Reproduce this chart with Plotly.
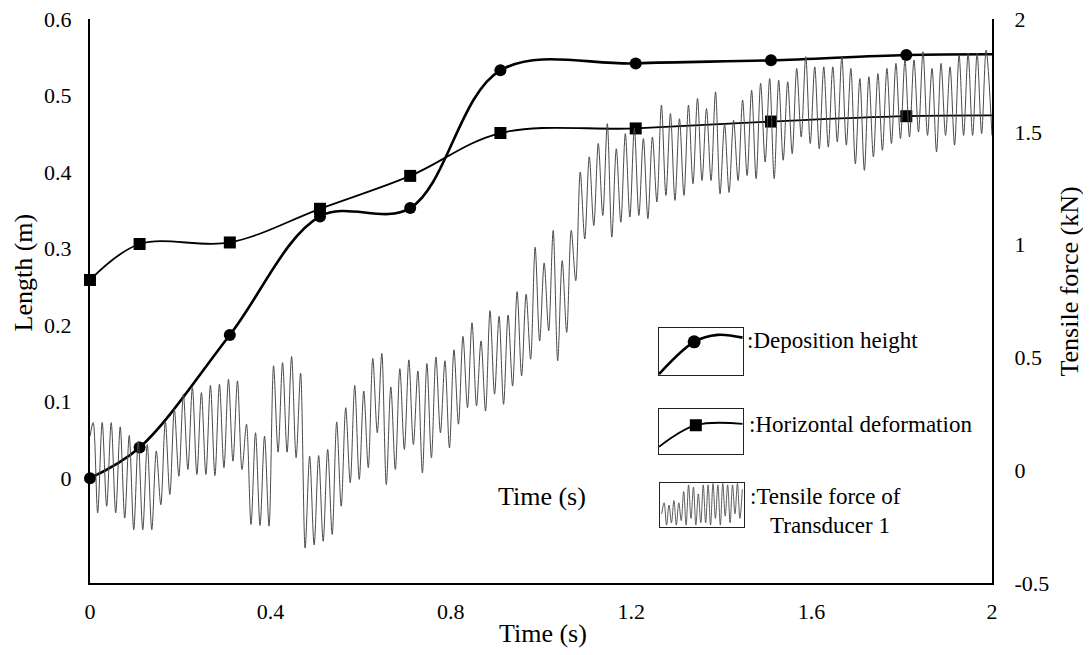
import numpy as np
import plotly.graph_objects as go

# ---------------- data ----------------
# Marker curves (left axis, Length in m)
curve_t = [0.0, 0.11, 0.31, 0.51, 0.71, 0.91, 1.21, 1.51, 1.81, 2.0]
deposition_height = [0.0, 0.040, 0.187, 0.342, 0.353, 0.533, 0.542, 0.546, 0.553, 0.554]
horizontal_deformation = [0.259, 0.306, 0.308, 0.352, 0.395, 0.451, 0.457, 0.466, 0.473, 0.474]
n_marked = 9  # the last point (t = 2) only carries the line to the right axis

# Tensile force of transducer 1 (right axis, kN): successive local maxima / minima
force_peaks = [
    0.211, 0.212, 0.211, 0.192, 0.154, 0.129, 0.114, 0.085, 0.218, 0.270,
    0.337, 0.366, 0.344, 0.376, 0.381, 0.403, 0.396, 0.204, 0.166, 0.151,
    0.463, 0.477, 0.504, 0.430, 0.062, 0.065, 0.092, 0.214, 0.277, 0.376,
    0.351, 0.496, 0.518, 0.369, 0.450, 0.489, 0.440, 0.473, 0.502, 0.485,
    0.534, 0.593, 0.654, 0.573, 0.707, 0.682, 0.688, 0.792, 0.780, 0.988,
    0.919, 1.063, 0.929, 1.063, 1.322, 1.389, 1.448, 1.536, 1.425, 1.492,
    1.515, 1.470, 1.477, 1.618, 1.581, 1.558, 1.618, 1.648, 1.603, 1.677,
    1.536, 1.551, 1.641, 1.684, 1.715, 1.736, 1.729, 1.722, 1.781, 1.833,
    1.788, 1.788, 1.788, 1.833, 1.781, 1.736, 1.744, 1.758, 1.781, 1.803,
    1.818, 1.818, 1.855, 1.781, 1.803, 1.788, 1.840, 1.848, 1.848, 1.862,
]
force_troughs = [
    -0.189, -0.160, -0.189, -0.212, -0.264, -0.264, -0.264, -0.153, -0.108, -0.027,
    0.003, -0.019, -0.019, -0.024, 0.011, 0.040, 0.003, -0.241, -0.245, -0.248,
    0.080, 0.080, 0.055, -0.345, -0.331, -0.315, -0.285, -0.160, -0.056, -0.041,
    0.011, 0.166, -0.064, 0.003, 0.092, 0.114, -0.012, 0.055, 0.166, 0.099,
    0.204, 0.277, 0.285, 0.262, 0.337, 0.292, 0.373, 0.418, 0.492, 0.573,
    0.618, 0.485, 0.611, 0.840, 1.025, 1.084, 1.129, 1.033, 1.099, 1.122,
    1.129, 1.115, 1.189, 1.218, 1.196, 1.218, 1.270, 1.284, 1.284, 1.225,
    1.231, 1.284, 1.306, 1.292, 1.366, 1.292, 1.374, 1.403, 1.477, 1.448,
    1.425, 1.432, 1.455, 1.441, 1.358, 1.329, 1.389, 1.418, 1.448, 1.470,
    1.477, 1.499, 1.484, 1.411, 1.484, 1.441, 1.484, 1.484, 1.492,
]
force_start = 0.15
force_end = 1.484
first_peak_t = 0.007
half_period = 0.01

# Legend icon for the force signal (normalised box coordinates)
icon_sig = [0.3, 0.55, 0.05, 0.5, 0.1, 0.6, 0.05, 0.55, 0.15, 0.8, 0.05, 0.95, 0.2,
            0.9, 0.05, 0.75, 0.1, 0.95, 0.1, 0.95, 0.05, 0.98, 0.2, 0.95, 0.05, 0.98,
            0.25, 0.95, 0.1, 0.95, 0.3, 0.98, 0.2, 0.85]

x_ticks = [0, 0.4, 0.8, 1.2, 1.6, 2]
x_labels = ["0", "0.4", "0.8", "1.2", "1.6", "2"]
left_ticks = [0, 0.1, 0.2, 0.3, 0.4, 0.5, 0.6]
left_labels = ["0", "0.1", "0.2", "0.3", "0.4", "0.5", "0.6"]
right_ticks = [-0.5, 0, 0.5, 1, 1.5, 2]
right_labels = ["-0.5", "0", "0.5", "1", "1.5", "2"]

# ---------------- build series ----------------
force_vals = [force_start]
for p, tr in zip(force_peaks, force_troughs + [None]):
    force_vals.append(p)
    if tr is not None:
        force_vals.append(tr)
force_vals.append(force_end)
n_ext = len(force_vals) - 2
force_t = [0.0] + list(first_peak_t + half_period * np.arange(n_ext)) + [2.0]

FONT = "Liberation Serif"
fig = go.Figure()

fig.add_trace(go.Scatter(
    x=force_t, y=force_vals, yaxis="y2", mode="lines",
    line=dict(color="#4a4a4a", width=1, shape="spline", smoothing=0.9),
    showlegend=False, hoverinfo="skip"))

for ys, width, symbol in [(horizontal_deformation, 1.8, "square"),
                          (deposition_height, 2.6, "circle")]:
    fig.add_trace(go.Scatter(
        x=curve_t, y=ys, mode="lines",
        line=dict(color="black", width=width, shape="spline"),
        cliponaxis=False, showlegend=False, hoverinfo="skip"))
    fig.add_trace(go.Scatter(
        x=curve_t[:n_marked], y=ys[:n_marked], mode="markers",
        marker=dict(symbol=symbol, size=12, color="black", opacity=1),
        cliponaxis=False, showlegend=False))

# ---------------- page geometry (page has an 8px body margin) ----------------
OFF = 8
W, H = 1083, 647
PL, PR, PT, PB = 90, 992, 19, 583  # plot area in page pixels
L, R, T, B = PL - OFF, OFF + W - PR, PT - OFF, OFF + H - PB
pw, ph = PR - PL, PB - PT

def px_x(px):
    return (px - PL) / pw

def px_y(py):
    return (PB - py) / ph

boxes = [
    (659, 742.7, 328.3, 375.0),
    (659, 742.7, 409.0, 454.0),
    (660, 744.0, 482.7, 527.3),
]
for i, (x0, x1, y0, y1) in enumerate(boxes):
    n = i + 3
    fig.layout[f"xaxis{n}"] = dict(domain=[px_x(x0), px_x(x1)], anchor=f"y{n}", range=[0, 1],
                                   showline=True, mirror=True, linecolor="#222", linewidth=1.2,
                                   showticklabels=False, showgrid=False, zeroline=False, ticks="",
                                   fixedrange=True)
    fig.layout[f"yaxis{n}"] = dict(domain=[px_y(y1), px_y(y0)], anchor=f"x{n}", range=[0, 1],
                                   showline=True, mirror=True, linecolor="#222", linewidth=1.2,
                                   showticklabels=False, showgrid=False, zeroline=False, ticks="",
                                   fixedrange=True)

fig.add_trace(go.Scatter(x=[0, 0.42, 0.7, 1], y=[0.02, 0.71, 0.86, 0.8], xaxis="x3", yaxis="y3",
                         mode="lines", line=dict(color="black", width=2.6, shape="spline"),
                         showlegend=False, hoverinfo="skip"))
fig.add_trace(go.Scatter(x=[0.42], y=[0.71], xaxis="x3", yaxis="y3", mode="markers",
                         marker=dict(symbol="circle", size=13, color="black"),
                         showlegend=False, hoverinfo="skip"))
fig.add_trace(go.Scatter(x=[0, 0.44, 1], y=[0.16, 0.64, 0.67], xaxis="x4", yaxis="y4",
                         mode="lines", line=dict(color="black", width=1.8, shape="spline"),
                         showlegend=False, hoverinfo="skip"))
fig.add_trace(go.Scatter(x=[0.44], y=[0.64], xaxis="x4", yaxis="y4", mode="markers",
                         marker=dict(symbol="square", size=12, color="black"),
                         showlegend=False, hoverinfo="skip"))
fig.add_trace(go.Scatter(x=list(np.linspace(0.02, 0.98, len(icon_sig))), y=icon_sig,
                         xaxis="x5", yaxis="y5", mode="lines",
                         line=dict(color="#4a4a4a", width=0.9, shape="spline"),
                         showlegend=False, hoverinfo="skip"))

# ---------------- axes ----------------
axis_font = dict(family=FONT, size=22, color="black")
common = dict(showline=True, linecolor="black", linewidth=2, showgrid=False, zeroline=False,
              ticks="outside", tickcolor="rgba(0,0,0,0)", automargin=False,
              ticklabeloverflow="allow", tickfont=axis_font)
fig.update_layout(
    width=W, height=H,
    margin=dict(l=L, r=R, t=T, b=B, autoexpand=False),
    paper_bgcolor="white", plot_bgcolor="white",
    font=dict(family=FONT, color="black"),
    xaxis=dict(range=[0, 2], tickvals=x_ticks, ticktext=x_labels, ticklen=8,
               anchor="y", domain=[0, 1], **common),
    yaxis=dict(range=[-0.137, 0.6], tickvals=left_ticks, ticktext=left_labels, ticklen=12,
               anchor="x", domain=[0, 1], **common),
    yaxis2=dict(range=[-0.5, 2.0], tickvals=right_ticks, ticktext=right_labels, ticklen=16,
                overlaying="y", side="right", anchor="x", **common),
)

title_font = dict(family=FONT, size=26, color="black")
leg_font = dict(family=FONT, size=23, color="black")
ann = [
    dict(text="Length (m)", x=px_x(22.5), y=px_y(273), textangle=-90, font=title_font),
    dict(text="Tensile force (kN)", x=px_x(1069), y=px_y(281.5), textangle=-90, font=title_font),
    dict(text="Time (s)", x=px_x(543), y=px_y(633), font=title_font),
    dict(text="Time (s)", x=px_x(542), y=px_y(497), font=title_font),
]
for a in ann:
    fig.add_annotation(xref="paper", yref="paper", showarrow=False,
                       xanchor="center", yanchor="middle", **a)
leg = [
    (":Deposition height", 745, 340),
    (":Horizontal deformation", 747, 424),
    (":Tensile force of", 748, 497),
    ("Transducer 1", 768, 525),
]
for txt, x, y in leg:
    fig.add_annotation(xref="paper", yref="paper", showarrow=False, text=txt,
                       x=px_x(x), y=px_y(y), xanchor="left", yanchor="middle", font=leg_font)

fig.write_html("out.html")
